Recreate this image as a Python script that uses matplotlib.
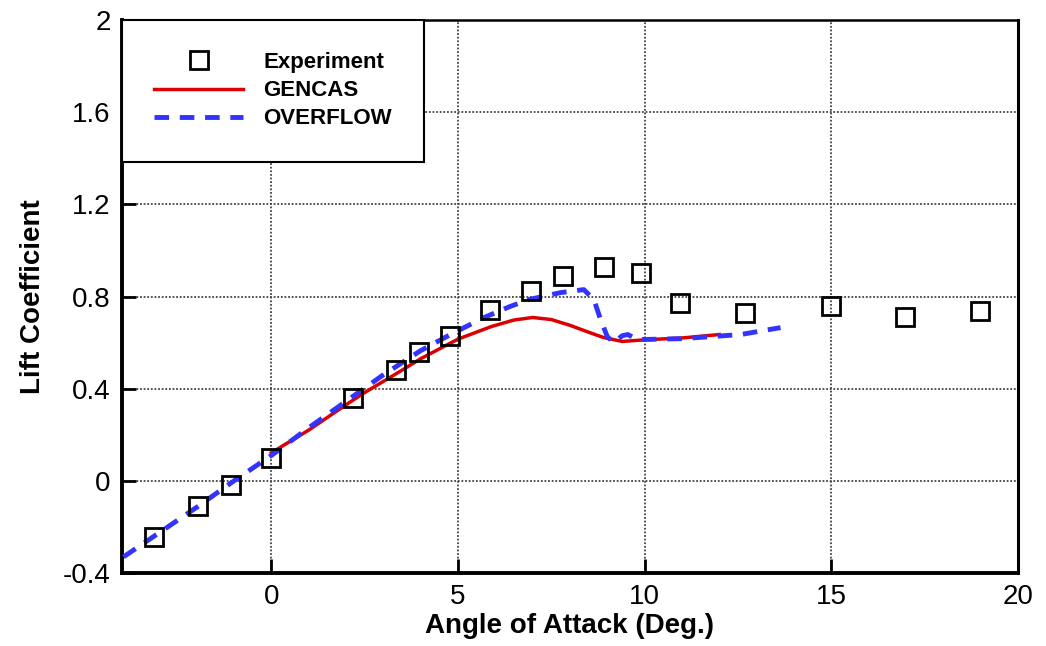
import matplotlib
matplotlib.use("Agg")
import matplotlib.pyplot as plt
from matplotlib.ticker import MultipleLocator

plt.rcParams['font.family'] = ['Liberation Sans', 'DejaVu Sans']

# experiment
exp_aoa = [-3.13, -1.95, -1.07, 0.0, 2.19, 3.34, 3.96, 4.79, 5.86, 6.95, 7.81,
           8.90, 9.89, 10.96, 12.70, 15.0, 16.98, 18.98]
exp_cl = [-0.243, -0.109, -0.017, 0.10, 0.36, 0.483, 0.561, 0.63, 0.74, 0.826,
          0.891, 0.93, 0.904, 0.774, 0.73, 0.757, 0.713, 0.735]

# GENCAS
gen_aoa = [0.0, 1.0, 2.0, 2.5, 3.5, 4.0, 5.0, 5.9, 6.5, 7.0, 7.5, 8.0, 8.5,
           8.9, 9.4, 10.0, 11.0, 12.0]
gen_cl = [0.122, 0.22, 0.33, 0.383, 0.48, 0.53, 0.615, 0.67, 0.698, 0.709,
          0.700, 0.675, 0.645, 0.622, 0.605, 0.612, 0.62, 0.635]

# OVERFLOW
ovf_aoa = [-3.96, -3.0, -2.0, -1.0, 0.0, 1.0, 2.0, 3.0, 4.0, 4.8, 5.7, 6.4,
           6.9, 7.75, 8.37, 8.64, 8.82, 9.0, 9.17, 9.4, 9.55, 9.81, 11.0,
           12.57, 13.64]
ovf_cl = [-0.33, -0.225, -0.115, 0.0, 0.11, 0.23, 0.345, 0.46, 0.565, 0.635,
          0.709, 0.757, 0.787, 0.817, 0.83, 0.787, 0.70, 0.626, 0.6, 0.63,
          0.635, 0.613, 0.617, 0.635, 0.665]

fig = plt.figure(figsize=(10.46, 6.46), dpi=100)
ax = fig.add_axes([0.1166, 0.113, 0.8566, 0.856])

ax.plot(exp_aoa, exp_cl, 's', ms=12.5, mfc='none', mec='black', mew=2,
        label='Experiment', zorder=4)
ax.plot(gen_aoa, gen_cl, '-', color='#dd0000', lw=2.5, label='GENCAS', zorder=3)
ax.plot(ovf_aoa, ovf_cl, '--', color='#3333ff', lw=3.5, dashes=(3, 2.2),
        label='OVERFLOW', zorder=3)

ax.set_xlim(-4, 20)
ax.set_ylim(-0.4, 2.0)
ax.xaxis.set_major_locator(MultipleLocator(5))
ax.set_yticks([-0.4, 0, 0.4, 0.8, 1.2, 1.6, 2.0])
ax.set_yticklabels(['-0.4', '0', '0.4', '0.8', '1.2', '1.6', '2'])

ax.tick_params(direction='in', length=10, width=2, labelsize=20, pad=8)
ax.grid(True, linestyle=(0, (1, 1)), color='#444444', lw=1.3)
ax.spines['left'].set_linewidth(2.8)
ax.spines['bottom'].set_linewidth(2.8)
ax.spines['top'].set_linewidth(1.8)
ax.spines['right'].set_linewidth(2.2)

ax.set_xlabel('Angle of Attack (Deg.)', fontsize=20, fontweight='bold', labelpad=2)
ax.set_ylabel('Lift Coefficient', fontsize=20, fontweight='bold', labelpad=12)

leg = ax.legend(loc='upper left', bbox_to_anchor=(0, 1), borderaxespad=0,
                prop={'weight': 'bold', 'size': 16},
                frameon=True, fancybox=False, handlelength=4.0,
                borderpad=1.45, labelspacing=0.32, handletextpad=0.9)
leg.get_frame().set_edgecolor('black')
leg.get_frame().set_linewidth(1.5)
leg.get_frame().set_alpha(1)

fig.savefig('out.png', dpi=100)
